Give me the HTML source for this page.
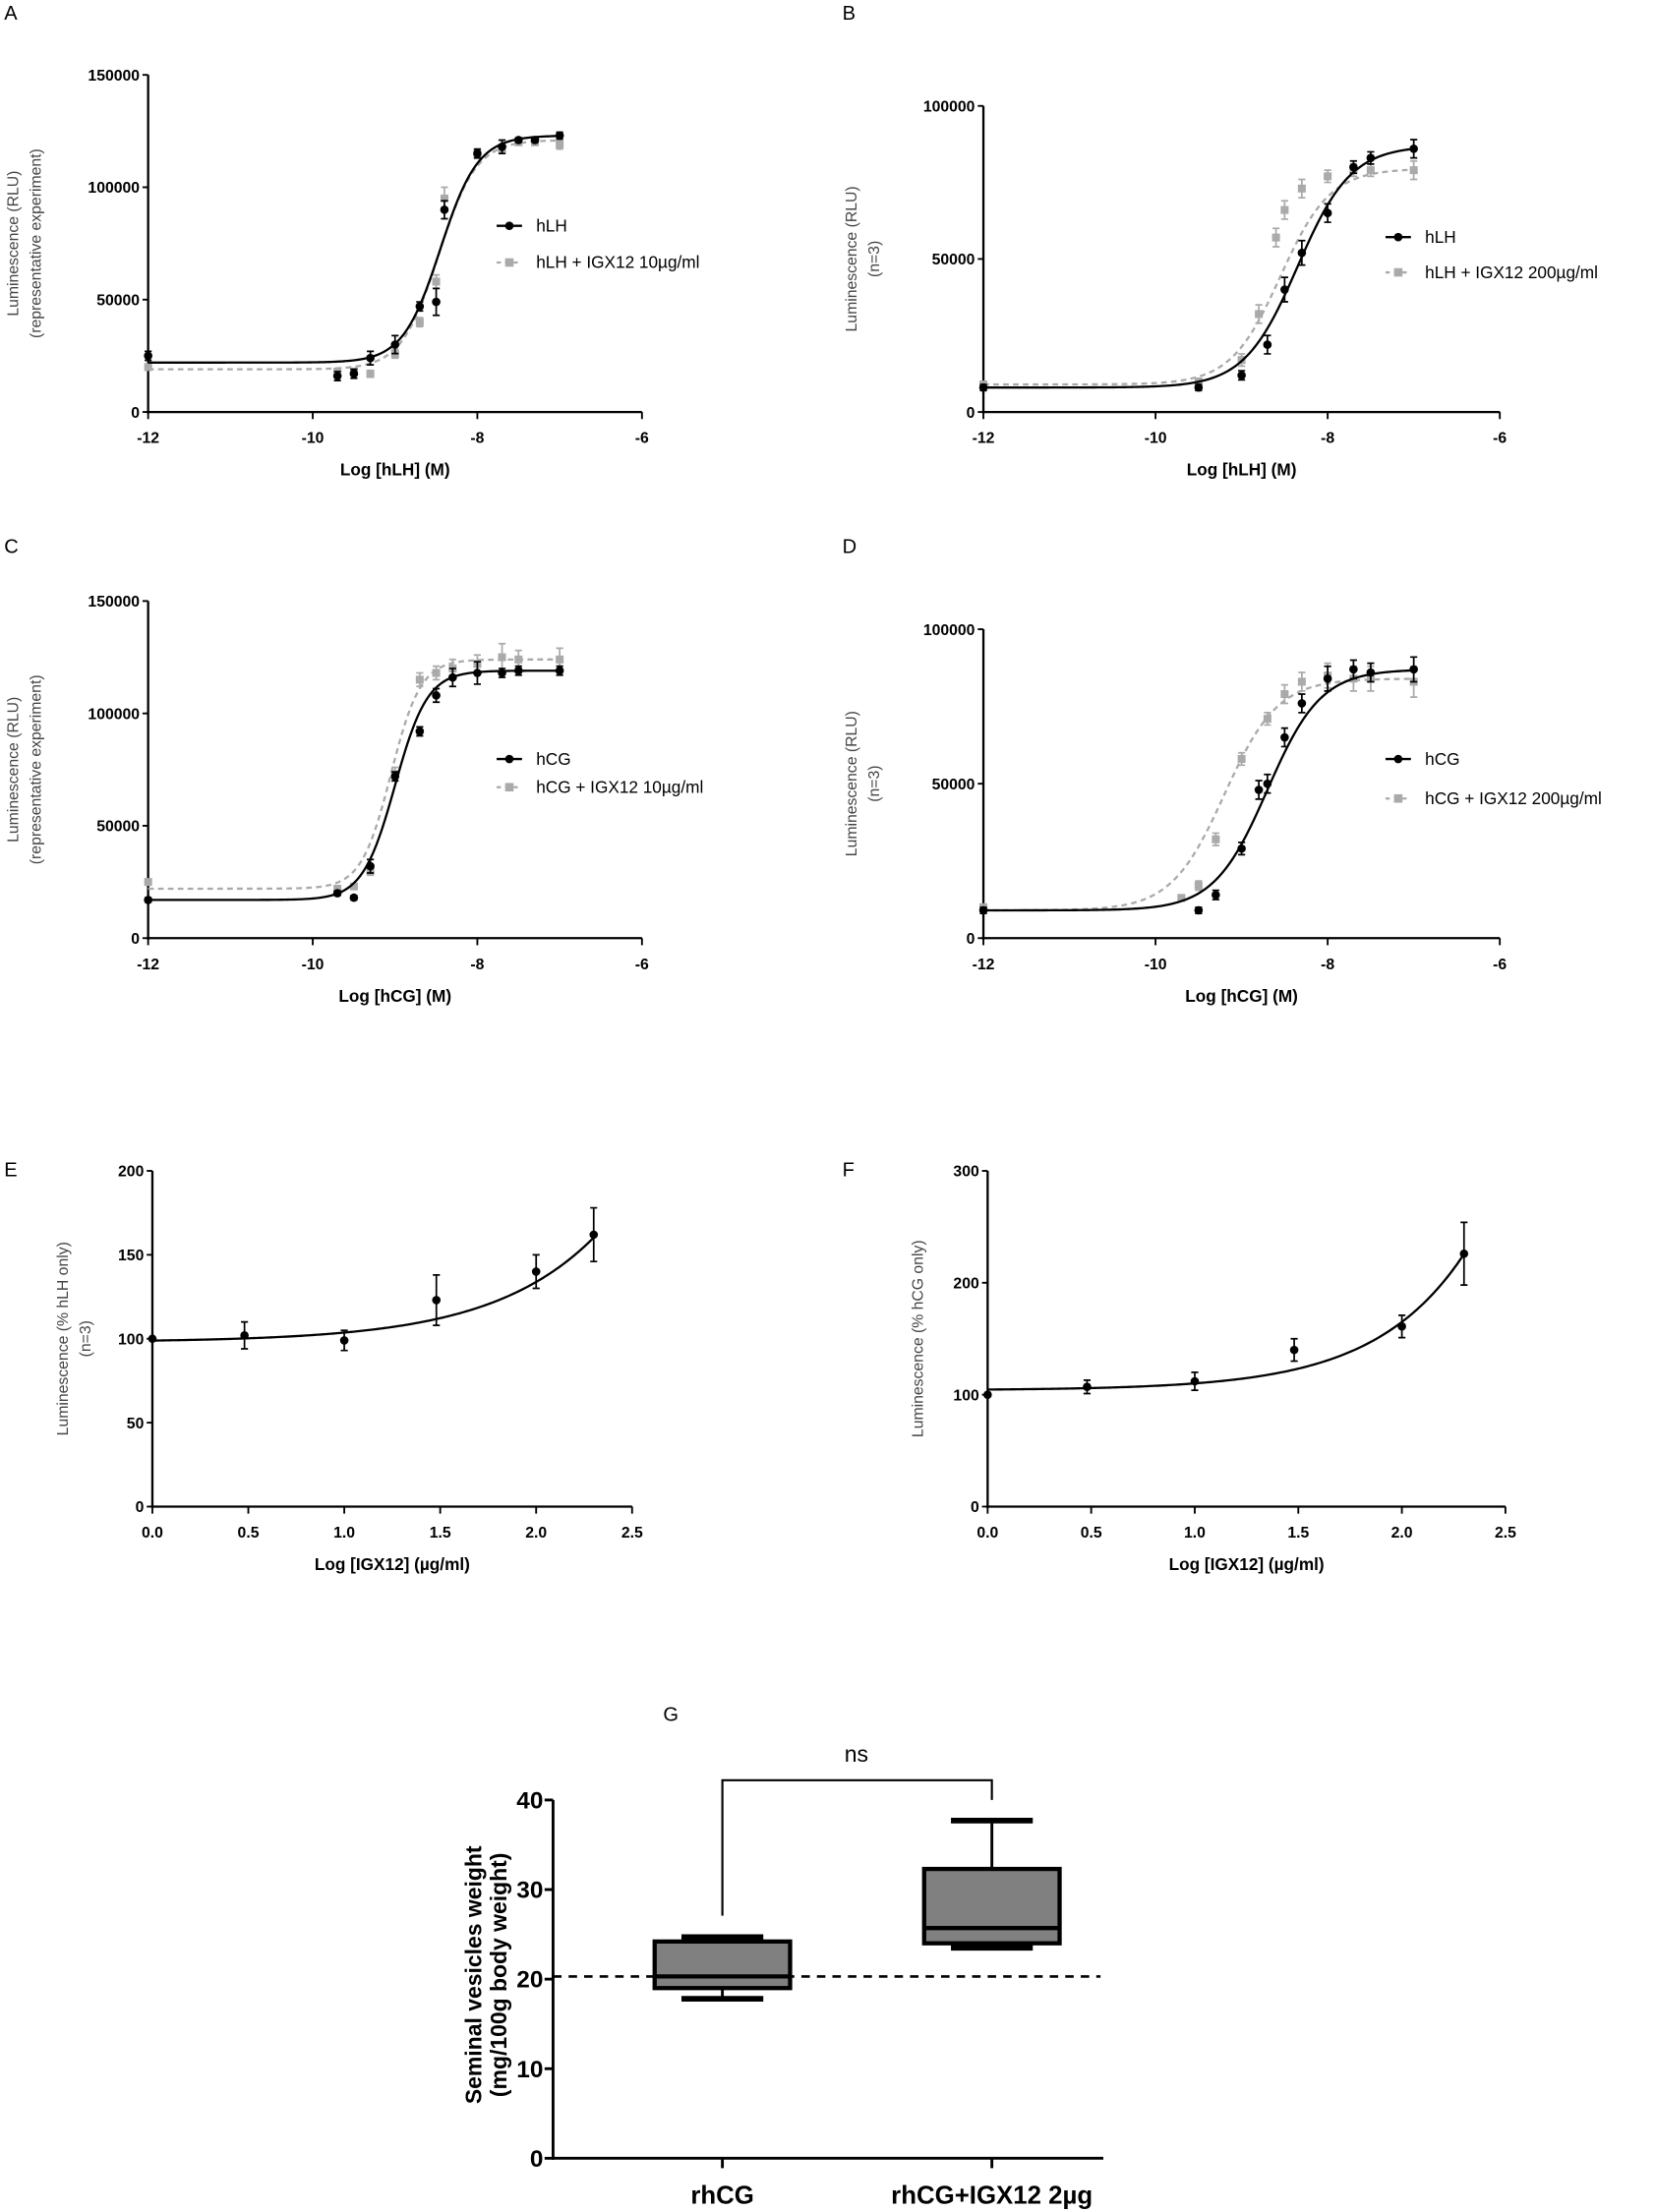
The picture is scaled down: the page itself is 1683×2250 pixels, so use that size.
<!DOCTYPE html>
<html><head><meta charset="utf-8"><style>
html,body{margin:0;padding:0;background:#fff}
svg{display:block}
text{font-family:"Liberation Sans",sans-serif}
</style></head><body>
<svg id="fig" width="1683" height="2250" viewBox="0 0 1173 1568" xmlns="http://www.w3.org/2000/svg"></svg>
<script>
// ---- Panel A data ----
const aBlackX=[-12,-9.7,-9.5,-9.3,-9,-8.7,-8.5,-8.4,-8,-7.7,-7.5,-7.3,-7];
const aBlackY=[25000,16000,17000,24000,30000,47000,49000,90000,115000,118000,121000,121000,123000];
const aBlackE=[2000,2000,2000,3000,4000,2000,6000,4000,2000,3000,1000,1000,1500];
const aGrayX=[-12,-9.7,-9.5,-9.3,-9,-8.7,-8.5,-8.4,-8,-7.7,-7.5,-7.3,-7];
const aGrayY=[20000,18000,18000,17000,26000,40000,58000,95000,115000,117000,120000,120000,119000];
const aGrayE=[1000,1000,1000,1500,2000,2000,3000,5000,1000,2000,1000,1000,2000];
const aBlackFit=[22000,123000,-8.45,1.9];
const aGrayFit=[19000,121000,-8.47,1.9];
// ---- Panel B data ----
const bBlackX=[-12,-9.5,-9,-8.7,-8.5,-8.3,-8,-7.7,-7.5,-7];
const bBlackY=[8000,8000,12000,22000,40000,52000,65000,80000,83000,86000];
const bBlackE=[1000,1000,1500,3000,4000,4000,3000,2000,2000,3000];
const bGrayX=[-12,-9.5,-9,-8.8,-8.6,-8.5,-8.3,-8,-7.7,-7.5,-7];
const bGrayY=[9000,10000,17000,32000,57000,66000,73000,77000,79000,79000,79000];
const bGrayE=[1000,1000,2000,3000,3000,3000,3000,2000,2000,2000,3000];
const bBlackFit=[8000,87000,-8.35,1.4];
const bGrayFit=[9000,79500,-8.55,1.5];
// ---- Panel C data ----
const cBlackX=[-12,-9.7,-9.5,-9.3,-9,-8.7,-8.5,-8.3,-8,-7.7,-7.5,-7];
const cBlackY=[17000,20000,18000,32000,72000,92000,108000,116000,118000,118000,119000,119000];
const cBlackE=[1000,1000,1000,3000,2000,2000,3000,4000,5000,2000,2000,2000];
const cGrayX=[-12,-9.7,-9.5,-9.3,-9,-8.7,-8.5,-8.3,-8,-7.7,-7.5,-7];
const cGrayY=[25000,22000,23000,30000,73000,115000,118000,120000,122000,125000,124000,124000];
const cGrayE=[1000,1000,1000,2000,3000,3000,3000,4000,4000,6000,4000,5000];
const cBlackFit=[17000,119000,-9.0,2.2];
const cGrayFit=[22000,124000,-9.05,2.4];
// ---- Panel D data ----
const dBlackX=[-12,-9.5,-9.3,-9,-8.8,-8.7,-8.5,-8.3,-8,-7.7,-7.5,-7];
const dBlackY=[9000,9000,14000,29000,48000,50000,65000,76000,84000,87000,86000,87000];
const dBlackE=[1000,1000,1500,2000,3000,3000,3000,3000,4000,3000,3000,4000];
const dGrayX=[-12,-9.7,-9.5,-9.3,-9,-8.7,-8.5,-8.3,-8,-7.7,-7.5,-7];
const dGrayY=[10000,13000,17000,32000,58000,71000,79000,83000,85000,84000,84000,83000];
const dGrayE=[1000,1000,1500,2000,2000,2000,3000,3000,4000,4000,4000,5000];
const dBlackFit=[9000,87000,-8.7,1.4];
const dGrayFit=[9000,84000,-9.2,1.4];
// ---- Panel E / F data ----
const eX=[0,0.48,1,1.48,2,2.3];
const eY=[100,102,99,123,140,162];
const eErr=[0,8,6,15,10,16];
const eFit=[98,0.9,0.8];
const fX=[0,0.48,1,1.48,2,2.3];
const fY=[100,107,112,140,161,226];
const fErr=[0,6,8,10,10,28];
const fFit=[104,0.61,1.0];
// ---- Panel G data ----
const gCats=["rhCG","rhCG+IGX12 2µg"];
const gMin=[17.8,23.5];
const gQ1=[19.0,24.0];
const gMed=[20.3,25.7];
const gQ3=[24.2,32.3];
const gMax=[24.7,37.7];
const gRef=20.3;

const NS="http://www.w3.org/2000/svg";
const svg=document.getElementById('fig');
function el(tag,attrs,parent,txt){const e=document.createElementNS(NS,tag);for(const k in attrs)e.setAttribute(k,attrs[k]);if(txt!==undefined)e.textContent=txt;(parent||svg).appendChild(e);return e;}
function lin(d0,d1,r0,r1){return v=>r0+(v-d0)/(d1-d0)*(r1-r0);}

function panel(o){
  const g=el('g',{});
  
  
  const sx=lin(o.xd[0],o.xd[1],o.x0,o.x1), sy=lin(o.yd[0],o.yd[1],o.y0,o.y1);
  const lt=el('text',{x:o.lx,y:o.ly,'font-size':14},g,o.letter);
  
  
  el('line',{x1:o.x0,y1:o.y0+1,x2:o.x0,y2:o.y1,stroke:'#000','stroke-width':o.aw||1.6},g);
  el('line',{x1:o.x0-1,y1:o.y0,x2:o.x1,y2:o.y0,stroke:'#000','stroke-width':o.aw||1.6},g);
  o.yt.forEach((t,i)=>{const y=sy(t);el('line',{x1:o.x0-4,y1:y,x2:o.x0,y2:y,stroke:'#000','stroke-width':1.3},g);
    const tx=el('text',{x:o.x0-6,y:y+4,'font-size':o.tf||11,'font-weight':'bold','text-anchor':'end'},g,o.ytl[i]);
    });
  o.xt.forEach((t,i)=>{const x=sx(t);el('line',{x1:x,y1:o.y0,x2:x,y2:o.y0+5,stroke:'#000','stroke-width':1.3},g);
    const tx=el('text',{x:x,y:o.y0+22,'font-size':o.tf||11,'font-weight':'bold','text-anchor':'middle'},g,o.xtl[i]);
    });
  const xt=el('text',{x:(o.x0+o.x1)/2,y:o.y0+45,'font-size':12,'font-weight':'bold','text-anchor':'middle'},g,o.xtitle);
  
  const cy=(o.y0+o.y1)/2;
  o.ytitle.forEach((s,i)=>{const t=el('text',{x:0,y:0,'font-size':11,fill:'#444','text-anchor':'middle',transform:`translate(${o.ytx+i*16},${cy}) rotate(-90)`},g,s);
    });
  return {g,sx,sy};
}
function sig(p,x){return p[0]+(p[1]-p[0])/(1+Math.pow(10,(p[2]-x)*p[3]));}
function series(P,xs,ys,es,fit,fn,color,dash,marker,name){
  const g=el('g',{},P.g);
  
  
  let d='';const a=xs[0],b=xs[xs.length-1];
  for(let i=0;i<=200;i++){const x=a+(b-a)*i/200;d+=(i?'L':'M')+P.sx(x).toFixed(2)+','+P.sy(fn(fit,x)).toFixed(2);}
  el('path',{d:d,fill:'none',stroke:color,'stroke-width':1.6,'stroke-dasharray':dash||''},g);
  xs.forEach((x,i)=>{const px=P.sx(x),py=P.sy(ys[i]);
    if(es[i]){const t=P.sy(ys[i]+es[i]),bb=P.sy(ys[i]-es[i]);
      el('path',{d:`M${px},${t}V${bb}M${px-2.5},${t}H${px+2.5}M${px-2.5},${bb}H${px+2.5}`,stroke:color,'stroke-width':1.2},g);}
    if(marker==='sq'){const m=el('rect',{x:px-2.8,y:py-2.8,width:5.6,height:5.6,fill:color},g);}
    else{const m=el('circle',{cx:px,cy:py,r:3,fill:color},g);}
  });
}
function legend(P,x,y1,y2,l1,l2){
  const g=el('g',{},P.g);
  el('line',{x1:x,y1:y1,x2:x+18,y2:y1,stroke:'#000','stroke-width':1.6},g);
  el('circle',{cx:x+9,cy:y1,r:3,fill:'#000'},g);
  const t1=el('text',{x:x+28,y:y1+4,'font-size':12},g,l1);
  el('line',{x1:x,y1:y2,x2:x+18,y2:y2,stroke:'#aaa','stroke-width':1.6,'stroke-dasharray':'3,3'},g);
  el('rect',{x:x+6,y:y2-3,width:6,height:6,fill:'#aaa'},g);
  const t2=el('text',{x:x+28,y:y2+4,'font-size':12},g,l2);
}
const logTicks=[-12,-10,-8,-6],logTL=['-12','-10','-8','-6'];
let P=panel({name:'panel-a',letter:'A',lx:3,ly:14,x0:105,x1:455,y0:292,y1:53,xd:[-12,-6],yd:[0,150000],
  yt:[0,50000,100000,150000],ytl:['0','50000','100000','150000'],xt:logTicks,xtl:logTL,xtitle:'Log [hLH] (M)',ytitle:['Luminescence (RLU)','(representative experiment)'],ytx:13});
series(P,aGrayX,aGrayY,aGrayE,aGrayFit,sig,'#aaa','4,3','sq','series-hlh-igx12');
series(P,aBlackX,aBlackY,aBlackE,aBlackFit,sig,'#000','','c','series-hlh');
legend(P,352,160,186,'hLH','hLH + IGX12 10µg/ml');
P=panel({name:'panel-b',letter:'B',lx:597,ly:14,x0:697,x1:1063,y0:292,y1:75,xd:[-12,-6],yd:[0,100000],
  yt:[0,50000,100000],ytl:['0','50000','100000'],xt:logTicks,xtl:logTL,xtitle:'Log [hLH] (M)',ytitle:['Luminescence (RLU)','(n=3)'],ytx:607});
series(P,bGrayX,bGrayY,bGrayE,bGrayFit,sig,'#aaa','4,3','sq','series-hlh-igx12');
series(P,bBlackX,bBlackY,bBlackE,bBlackFit,sig,'#000','','c','series-hlh');
legend(P,982,168,193,'hLH','hLH + IGX12 200µg/ml');
P=panel({name:'panel-c',letter:'C',lx:3,ly:392,x0:105,x1:455,y0:665,y1:426,xd:[-12,-6],yd:[0,150000],
  yt:[0,50000,100000,150000],ytl:['0','50000','100000','150000'],xt:logTicks,xtl:logTL,xtitle:'Log [hCG] (M)',ytitle:['Luminescence (RLU)','(representative experiment)'],ytx:13});
series(P,cGrayX,cGrayY,cGrayE,cGrayFit,sig,'#aaa','4,3','sq','series-hcg-igx12');
series(P,cBlackX,cBlackY,cBlackE,cBlackFit,sig,'#000','','c','series-hcg');
legend(P,352,538,558,'hCG','hCG + IGX12 10µg/ml');
P=panel({name:'panel-d',letter:'D',lx:597,ly:392,x0:697,x1:1063,y0:665,y1:446,xd:[-12,-6],yd:[0,100000],
  yt:[0,50000,100000],ytl:['0','50000','100000'],xt:logTicks,xtl:logTL,xtitle:'Log [hCG] (M)',ytitle:['Luminescence (RLU)','(n=3)'],ytx:607});
series(P,dGrayX,dGrayY,dGrayE,dGrayFit,sig,'#aaa','4,3','sq','series-hcg-igx12');
series(P,dBlackX,dBlackY,dBlackE,dBlackFit,sig,'#000','','c','series-hcg');
legend(P,982,538,566,'hCG','hCG + IGX12 200µg/ml');
function expFit(p,x){return p[0]+p[1]*Math.pow(10,x*p[2]);}
const linT=[0,0.5,1,1.5,2,2.5],linTL=['0.0','0.5','1.0','1.5','2.0','2.5'];
P=panel({name:'panel-e',letter:'E',lx:3,ly:834,x0:108,x1:448,y0:1068,y1:830,xd:[0,2.5],yd:[0,200],
  yt:[0,50,100,150,200],ytl:['0','50','100','150','200'],xt:linT,xtl:linTL,xtitle:'Log [IGX12] (µg/ml)',ytitle:['Luminescence (% hLH only)','(n=3)'],ytx:48});
series(P,eX,eY,eErr,eFit,expFit,'#000','','c','series-e');
P=panel({name:'panel-f',letter:'F',lx:597,ly:834,x0:700,x1:1067,y0:1068,y1:830,xd:[0,2.5],yd:[0,300],
  yt:[0,100,200,300],ytl:['0','100','200','300'],xt:linT,xtl:linTL,xtitle:'Log [IGX12] (µg/ml)',ytitle:['Luminescence (% hCG only)'],ytx:654});
series(P,fX,fY,fErr,fFit,expFit,'#000','','c','series-f');
(function(){
  const g=el('g',{});
  const x0=392,x1=782,y0=1530,y1=1276;const sy=lin(0,40,y0,y1);const cx=[512,703];const bw=96;
  const lt=el('text',{x:470,y:1220,'font-size':14},g,'G');
  el('line',{x1:x0,y1:y0+1,x2:x0,y2:y1,stroke:'#000','stroke-width':2},g);
  el('line',{x1:x0-1,y1:y0,x2:x1,y2:y0,stroke:'#000','stroke-width':2},g);
  [0,10,20,30,40].forEach(t=>{const y=sy(t);el('line',{x1:x0-6,y1:y,x2:x0,y2:y,stroke:'#000','stroke-width':2},g);
    const tx=el('text',{x:x0-7,y:y+6,'font-size':17,'font-weight':'bold','text-anchor':'end'},g,String(t));});
  el('line',{x1:x0,y1:sy(gRef),x2:780,y2:sy(gRef),stroke:'#000','stroke-width':1.8,'stroke-dasharray':'6,5'},g);
  gCats.forEach((c,i)=>{const x=cx[i];
    el('line',{x1:x,y1:y0,x2:x,y2:y0+7,stroke:'#000','stroke-width':2},g);
    const tx=el('text',{x:x,y:y0+32,'font-size':18,'font-weight':'bold','text-anchor':'middle'},g,c);
    const b=el('g',{},g);
    el('line',{x1:x,y1:sy(gMin[i]),x2:x,y2:sy(gMax[i]),stroke:'#000','stroke-width':2},b);
    el('line',{x1:x-29,y1:sy(gMin[i]),x2:x+29,y2:sy(gMin[i]),stroke:'#000','stroke-width':4},b);
    el('line',{x1:x-29,y1:sy(gMax[i]),x2:x+29,y2:sy(gMax[i]),stroke:'#000','stroke-width':4},b);
    el('rect',{x:x-bw/2,y:sy(gQ3[i]),width:bw,height:sy(gQ1[i])-sy(gQ3[i]),fill:'#808080',stroke:'#000','stroke-width':3},b);
    el('line',{x1:x-bw/2,y1:sy(gMed[i]),x2:x+bw/2,y2:sy(gMed[i]),stroke:'#000','stroke-width':3},b);
  });
  el('path',{d:`M512,1358V1262H703V1276`,fill:'none',stroke:'#000','stroke-width':1.5},g);
  const ns=el('text',{x:607,y:1249,'font-size':16,'text-anchor':'middle'},g,'ns');
  const yt=el('text',{x:0,y:0,'font-size':16,'font-weight':'bold','text-anchor':'middle',transform:`translate(341,1400) rotate(-90)`},g,'Seminal vesicles weight');
  const yt2=el('text',{x:0,y:0,'font-size':16,'font-weight':'bold','text-anchor':'middle',transform:`translate(359,1400) rotate(-90)`},g,'(mg/100g body weight)');
})();
</script>
</body></html>
